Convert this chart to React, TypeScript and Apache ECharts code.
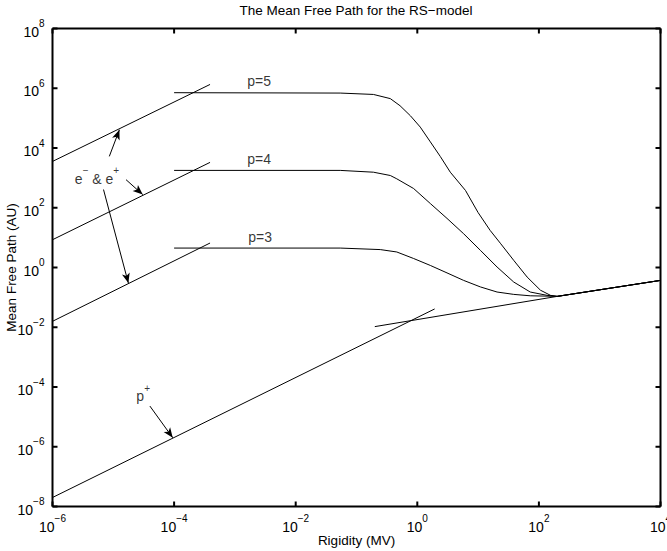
import React, { useEffect, useRef } from 'react';
import * as echarts from 'echarts';

const FONT = '"Liberation Sans", Arial, Helvetica, sans-serif';

// Axis ticks (every two decades)
const xTicks = [1e-6, 1e-4, 1e-2, 1, 1e2, 1e4];
const yTicks = [1e-8, 1e-6, 1e-4, 1e-2, 1, 1e2, 1e4, 1e6, 1e8];

// Electron / positron low-rigidity lines [rigidity MV, mean free path AU]
const electronP5: [number, number][] = [[1e-6, 3550], [3.9e-4, 1.34e6]];
const electronP4: [number, number][] = [[1e-6, 8.5], [3.9e-4, 3300]];
const electronP3: [number, number][] = [[1e-6, 0.0158], [3.9e-4, 6.6]];

// RS-model curves
const curveP5: [number, number][] = [
  [1e-4, 7.1e5], [0.054, 6.9e5], [0.19, 6.2e5], [0.36, 4.5e5], [0.52, 2.6e5],
  [0.77, 1.2e5], [1.12, 5.0e4], [1.64, 1.6e4], [2.39, 5.2e3], [3.49, 1.55e3],
  [6.2, 380], [10, 69], [15.8, 17.4], [23.2, 6.5], [38.5, 1.74], [64, 0.48],
  [106, 0.174], [155, 0.117], [200, 0.108], [1e4, 0.37],
];
const curveP4: [number, number][] = [
  [1e-4, 1780], [0.054, 1780], [0.19, 1550], [0.36, 1200], [0.46, 930],
  [0.87, 440], [1.64, 138], [3.08, 44], [5.78, 13.5], [10.9, 3.76], [20.5, 1.04],
  [38.5, 0.327], [72, 0.151], [136, 0.117], [200, 0.108], [1e4, 0.37],
];
const curveP3: [number, number][] = [
  [1e-4, 4.47], [0.054, 4.47], [0.246, 3.98], [0.46, 3.31], [0.87, 2.0],
  [1.64, 1.17], [3.08, 0.66], [5.78, 0.37], [10.9, 0.224], [20.5, 0.151],
  [38.5, 0.126], [72, 0.113], [136, 0.11], [200, 0.108], [1e4, 0.37],
];

// Proton lines
const protonHigh: [number, number][] = [[0.2, 0.0105], [200, 0.108], [1e4, 0.37]];
const protonLow: [number, number][] = [[1e-6, 2.0e-8], [1.93, 0.041]];

// Text annotations (data coordinates)
const annotationTexts = ['p=5', 'p=4', 'p=3', '{b|e}{s|−}{b| & e}{s|+}', '{b|p}{s|+}'];
const annotationPos: [number, number][] = [
  [2.5e-3, 1.74e6], [2.5e-3, 4200], [2.6e-3, 10.5], [5.4e-6, 1200], [3.1e-5, 6.2e-5],
];

// Arrows: from -> to (data coordinates)
const arrowFrom: [number, number][] = [[8.6e-6, 5250], [1.62e-5, 870], [6.9e-6, 407], [4.0e-5, 2.3e-5]];
const arrowTo: [number, number][] = [[1.26e-5, 4.07e4], [3.05e-5, 275], [1.77e-5, 0.30], [9.5e-5, 2.0e-6]];

const TITLE = 'The Mean Free Path for the RS−model';
const X_NAME = 'Rigidity (MV)';
const Y_NAME = 'Mean Free Path (AU)';

const TICK_LEN = 5;

const powLabel = (v: number) => {
  const e = Math.round(Math.log10(v));
  return '{b|10}{e|' + (e < 0 ? '−' + -e : String(e)) + '}';
};

const labelRich = {
  b: { fontSize: 14, lineHeight: 20, verticalAlign: 'bottom', fontFamily: FONT, color: '#000' },
  e: { fontSize: 10, lineHeight: 9, verticalAlign: 'top', fontFamily: FONT, color: '#000' },
};

const axisBase = {
  type: 'log',
  logBase: 100,
  nameMoveOverlap: false,
  axisLine: { show: false, onZero: false },
  axisTick: { show: false },
  minorTick: { show: false },
  splitLine: { show: false },
  minorSplitLine: { show: false },
};

const lineSeries = (name: string, data: [number, number][]) => ({
  type: 'line',
  name,
  data,
  symbol: 'none',
  showSymbol: false,
  smooth: false,
  silent: true,
  lineStyle: { color: '#000', width: 1 },
  xAxisIndex: 0,
  yAxisIndex: 0,
});

const titleGraphic = {
  id: 'title',
  type: 'text',
  x: 356,
  y: 10,
  silent: true,
  style: {
    text: TITLE,
    fontFamily: FONT,
    fontSize: 13.5,
    fill: '#000',
    textAlign: 'center',
    textVerticalAlign: 'middle',
  },
};

export default function App() {
  const ref = useRef<HTMLDivElement>(null);
  useEffect(() => {
    if (!ref.current) return;
    const chart = echarts.init(ref.current, null, { renderer: 'svg' });
    const xMin = xTicks[0], xMax = xTicks[xTicks.length - 1];
    const yMin = yTicks[0], yMax = yTicks[yTicks.length - 1];
    chart.setOption({
      animation: false,
      textStyle: { fontFamily: FONT },
      grid: {
        left: 52.5,
        right: 6.5,
        top: 28.5,
        bottom: 44.5,
        containLabel: false,
        outerBoundsMode: 'none',
      },
      graphic: [titleGraphic],
      xAxis: [
        {
          ...axisBase,
          min: xMin,
          max: xMax,
          position: 'bottom',
          name: X_NAME,
          nameLocation: 'middle',
          nameGap: 27,
          nameTextStyle: { fontFamily: FONT, fontSize: 13.5, color: '#000' },
          axisLabel: { formatter: powLabel, rich: labelRich, margin: 7, color: '#000' },
        },
      ],
      yAxis: [
        {
          ...axisBase,
          min: yMin,
          max: yMax,
          position: 'left',
          name: Y_NAME,
          nameLocation: 'middle',
          nameGap: 34,
          nameTextStyle: { fontFamily: FONT, fontSize: 13.5, color: '#000' },
          axisLabel: { formatter: powLabel, rich: labelRich, margin: 8, color: '#000' },
        },
      ],
      series: [
        lineSeries('e p=5', electronP5),
        lineSeries('e p=4', electronP4),
        lineSeries('e p=3', electronP3),
        lineSeries('p=5', curveP5),
        lineSeries('p=4', curveP4),
        lineSeries('p=3', curveP3),
        lineSeries('proton high', protonHigh),
        lineSeries('proton low', protonLow),
        {
          type: 'scatter',
          name: 'annotations',
          xAxisIndex: 0,
          yAxisIndex: 0,
          symbolSize: 1,
          silent: true,
          itemStyle: { color: 'rgba(0,0,0,0)' },
          data: annotationPos.map((p, i) => ({ value: p, label: { formatter: annotationTexts[i] } })),
          label: {
            show: true,
            position: 'inside',
            color: '#000',
            fontFamily: FONT,
            fontSize: 14,
            rich: {
              b: { fontSize: 14, lineHeight: 20, verticalAlign: 'bottom', fontFamily: FONT, color: '#000' },
              s: { fontSize: 10, lineHeight: 9, verticalAlign: 'top', fontFamily: FONT, color: '#000' },
            },
          },
          markLine: {
            silent: true,
            animation: false,
            symbol: ['none', 'arrow'],
            symbolSize: [0, 9],
            label: { show: false },
            emphasis: { disabled: true },
            lineStyle: { color: '#000', width: 1, type: 'solid' },
            data: arrowFrom.map((f, i) => [
              { coord: f, symbol: 'none' },
              { coord: arrowTo[i], symbol: 'arrow', symbolSize: [6, 10] },
            ]),
          },
        },
      ],
    });

    // Axes box and inward ticks on all four sides, placed through the axis scales
    const px = (v: number) => Number(chart.convertToPixel({ xAxisIndex: 0 }, v));
    const py = (v: number) => Number(chart.convertToPixel({ yAxisIndex: 0 }, v));
    const x0 = px(xMin), x1 = px(xMax), yb = py(yMin), yt = py(yMax);
    const stroke = { stroke: '#000', lineWidth: 2, fill: 'none' };
    const els: any[] = [titleGraphic];
    const seg = (id: string, a: number, b: number, c: number, d: number) => ({
      id, type: 'line', silent: true, z: 50,
      shape: { x1: a, y1: b, x2: c, y2: d },
      style: { ...stroke },
    });
    els.push(seg('bb', x0, yb, x1, yb));
    els.push(seg('bt', x0, yt, x1, yt));
    els.push(seg('bl', x0, yt, x0, yb));
    els.push(seg('br', x1, yt, x1, yb));
    xTicks.forEach((t, i) => {
      const x = px(t);
      els.push(seg('xtb' + i, x, yb, x, yb - TICK_LEN));
      els.push(seg('xtt' + i, x, yt, x, yt + TICK_LEN));
    });
    yTicks.forEach((t, i) => {
      const y = py(t);
      els.push(seg('ytl' + i, x0, y, x0 + TICK_LEN, y));
      els.push(seg('ytr' + i, x1, y, x1 - TICK_LEN, y));
    });
    chart.setOption({ graphic: els });
    return () => chart.dispose();
  }, []);
  return (
    <div
      ref={ref}
      style={{ position: 'fixed', left: 0, top: 0, width: 667, height: 551, background: '#fff' }}
    />
  );
}
